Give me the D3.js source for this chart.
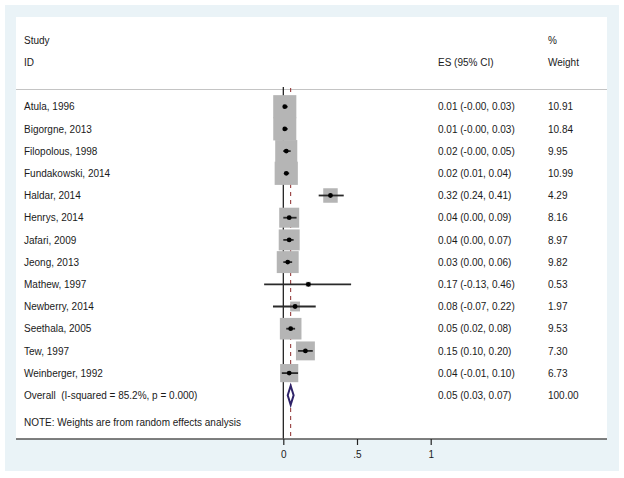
<!DOCTYPE html>
<html>
<head>
<meta charset="utf-8">
<script src="https://cdn.jsdelivr.net/npm/d3@7"></script>
<style>
  body { margin: 0; background: #fff; }
  text { font-family: "Liberation Sans", Arial, sans-serif; font-size: 10px; fill: #1a1a1a; white-space: pre; }
</style>
</head>
<body>
<svg id="chart"></svg>
<script>
// study rows
const studies = ["Atula, 1996", "Bigorgne, 2013", "Filopolous, 1998", "Fundakowski, 2014",
  "Haldar, 2014", "Henrys, 2014", "Jafari, 2009", "Jeong, 2013", "Mathew, 1997",
  "Newberry, 2014", "Seethala, 2005", "Tew, 1997", "Weinberger, 1992"];
const es = [0.01, 0.01, 0.02, 0.02, 0.32, 0.04, 0.04, 0.03, 0.17, 0.08, 0.05, 0.15, 0.04];
const lo = [-0.001, -0.001, -0.001, 0.01, 0.24, 0.00, 0.00, 0.00, -0.13, -0.07, 0.02, 0.10, -0.01];
const hi = [0.03, 0.03, 0.05, 0.04, 0.41, 0.09, 0.07, 0.06, 0.46, 0.22, 0.08, 0.20, 0.10];
const weights = ["10.91", "10.84", "9.95", "10.99", "4.29", "8.16", "8.97", "9.82", "0.53",
  "1.97", "9.53", "7.30", "6.73"];

const overall = {label: "Overall  (I-squared = 85.2%, p = 0.000)", es: 0.05, lo: 0.03, hi: 0.07, weight: "100.00"};
const xTicks = [0, 0.5, 1];

const W = 624, H = 478;
const svg = d3.select("#chart").attr("width", W).attr("height", H);

// background panels
svg.append("rect").attr("x", 5).attr("y", 5).attr("width", 614).attr("height", 466).attr("fill", "#eaf3f7");
svg.append("rect").attr("x", 16).attr("y", 17).attr("width", 591).attr("height", 422).attr("fill", "#fff");

const x = d3.scaleLinear().domain([0, 1]).range([283.3, 430.7]);
const rows = studies.concat([overall.label]);
const y = d3.scalePoint().domain(rows).range([106.7, 395.3]);
const boxSize = d3.scaleSqrt().domain([0, 10.99]).range([0, 23.2]);

const colText = 24, colES = 438, colW = 548;
const axisY = 439;

// header
svg.append("text").attr("x", colText).attr("y", 44).text("Study");
svg.append("text").attr("x", colText).attr("y", 66).text("ID");
svg.append("text").attr("x", colES).attr("y", 66).text("ES (95% CI)");
svg.append("text").attr("x", colW).attr("y", 44).text("%");
svg.append("text").attr("x", colW).attr("y", 66).text("Weight");

svg.append("line").attr("x1", 16).attr("x2", 607).attr("y1", 89.5).attr("y2", 89.5)
  .attr("stroke", "#c4c4c4").attr("stroke-width", 1);

// null line and overall dashed line (drawn under the boxes)
svg.append("line").attr("x1", x(0)).attr("x2", x(0)).attr("y1", 87).attr("y2", axisY)
  .attr("stroke", "#111").attr("stroke-width", 1.2);
svg.append("line").attr("x1", x(overall.es)).attr("x2", x(overall.es)).attr("y1", 88).attr("y2", axisY)
  .attr("stroke", "#8b2a2a").attr("stroke-width", 1).attr("stroke-dasharray", "4,4");

const fmt = v => (v < 0 ? "-" : "") + Math.abs(v).toFixed(2);

const data = studies.map((s, i) => ({study: s, es: es[i], lo: lo[i], hi: hi[i], w: weights[i]}));

// boxes
svg.append("g").selectAll("rect").data(data).join("rect")
  .attr("x", d => x(d.es) - boxSize(+d.w) / 2)
  .attr("y", d => y(d.study) - boxSize(+d.w) / 2)
  .attr("width", d => boxSize(+d.w))
  .attr("height", d => boxSize(+d.w))
  .attr("fill", "#b5b5b5");

// CI lines and points
svg.append("g").selectAll("line").data(data).join("line")
  .attr("x1", d => x(d.lo)).attr("x2", d => x(d.hi))
  .attr("y1", d => y(d.study)).attr("y2", d => y(d.study))
  .attr("stroke", "#2a2a2a").attr("stroke-width", 1.8);

svg.append("g").selectAll("circle").data(data).join("circle")
  .attr("cx", d => x(d.es)).attr("cy", d => y(d.study))
  .attr("r", 2.4)
  .attr("fill", "#000");

// text columns
const rowsG = svg.append("g");
rowsG.selectAll("text.study").data(data).join("text").attr("class", "study")
  .attr("x", colText).attr("y", d => y(d.study) + 3.6).text(d => d.study);
rowsG.selectAll("text.es").data(data).join("text").attr("class", "es")
  .attr("x", colES).attr("y", d => y(d.study) + 3.6)
  .text(d => `${fmt(d.es)} (${fmt(d.lo)}, ${fmt(d.hi)})`);
rowsG.selectAll("text.w").data(data).join("text").attr("class", "w")
  .attr("x", colW).attr("y", d => y(d.study) + 3.6).text(d => d.w);

// overall
const oy = y(overall.label);
svg.append("path")
  .attr("d", `M${x(overall.lo)},${oy} L${x(overall.es)},${oy - 9.5} L${x(overall.hi)},${oy} L${x(overall.es)},${oy + 9.5} Z`)
  .attr("fill", "#fff").attr("stroke", "#2e2268").attr("stroke-width", 2);
svg.append("text").attr("x", colText).attr("y", oy + 3.6).text(overall.label);
svg.append("text").attr("x", colES).attr("y", oy + 3.6)
  .text(`${fmt(overall.es)} (${fmt(overall.lo)}, ${fmt(overall.hi)})`);
svg.append("text").attr("x", colW).attr("y", oy + 3.6).text(overall.weight);

svg.append("text").attr("x", colText).attr("y", 425.5).text("NOTE: Weights are from random effects analysis");

// x axis
svg.append("line").attr("x1", 16).attr("x2", 607).attr("y1", axisY).attr("y2", axisY)
  .attr("stroke", "#555").attr("stroke-width", 1.5);
const axis = svg.append("g").attr("transform", `translate(0,${axisY})`)
  .call(d3.axisBottom(x).tickValues(xTicks).tickSize(6).tickPadding(5.5)
    .tickFormat(d => d === 0.5 ? ".5" : String(d)));
axis.select(".domain").remove();
axis.selectAll(".tick line").attr("stroke", "#222").attr("stroke-width", 1.2);
axis.selectAll(".tick text").attr("fill", "#1a1a1a")
  .style("font-family", "'Liberation Sans', Arial, sans-serif").style("font-size", "10px");
</script>
</body>
</html>
